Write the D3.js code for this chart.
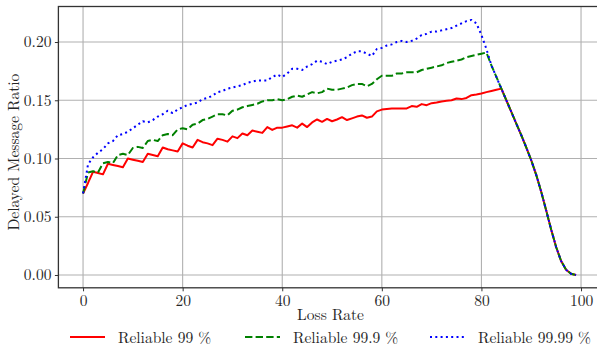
<!DOCTYPE html>
<html>
<head>
<meta charset="utf-8">
<script src="https://cdn.jsdelivr.net/npm/d3@7"></script>
<style>
  body { margin: 0; background: #fff; }
</style>
</head>
<body>
<div id="chart"></div>
<script>
// loss rate (x axis)
var loss_rate = [0,1,2,3,4,5,6,7,8,9,10,11,12,13,14,15,16,17,18,19,20,21,22,23,24,25,26,27,28,29,
  30,31,32,33,34,35,36,37,38,39,40,41,42,43,44,45,46,47,48,49,50,51,52,53,54,55,56,57,58,59,
  60,61,62,63,64,65,66,67,68,69,70,71,72,73,74,75,76,77,78,79,80,81,82,83,84,85,86,87,88,89,
  90,91,92,93,94,95,96,97,98,99];

var reliable_99 = [0.070,0.079,0.0886,0.0875,0.0864,0.0955,0.0945,0.0935,0.0925,0.100,
  0.099,0.098,0.097,0.104,0.103,0.102,0.1095,0.108,0.107,0.106,
  0.113,0.111,0.1095,0.116,0.114,0.113,0.1115,0.117,0.116,0.1145,
  0.119,0.1175,0.1215,0.120,0.124,0.123,0.122,0.127,0.1245,0.1265,
  0.1265,0.1275,0.1285,0.1265,0.130,0.127,0.131,0.1335,0.1315,0.134,
  0.132,0.1335,0.1355,0.133,0.1345,0.136,0.137,0.135,0.136,0.1405,
  0.142,0.1425,0.143,0.143,0.143,0.143,0.145,0.1444,0.1467,0.1458,
  0.1475,0.148,0.149,0.1495,0.150,0.1515,0.151,0.152,0.1544,0.155,
  0.1558,0.157,0.158,0.159,0.160,0.150,0.140,0.130,0.120,0.1095,
  0.0985,0.086,0.0715,0.0555,0.039,0.024,0.012,0.0045,0.001,0.000];

var reliable_999 = [0.070,0.088,0.089,0.088,0.096,0.097,0.096,0.103,0.104,0.103,
  0.109,0.110,0.109,0.115,0.116,0.115,0.120,0.121,0.120,0.125,
  0.126,0.125,0.129,0.130,0.133,0.134,0.136,0.138,0.138,0.137,
  0.141,0.142,0.144,0.145,0.146,0.147,0.149,0.150,0.150,0.151,
  0.150,0.151,0.153,0.154,0.153,0.155,0.157,0.156,0.157,0.160,
  0.159,0.159,0.160,0.161,0.163,0.164,0.164,0.162,0.164,0.168,
  0.171,0.171,0.171,0.173,0.173,0.174,0.174,0.174,0.176,0.177,
  0.178,0.179,0.180,0.182,0.183,0.184,0.185,0.187,0.188,0.189,
  0.190,0.191,0.180,0.170,0.160,0.150,0.140,0.130,0.120,0.1095,
  0.0985,0.086,0.0715,0.0555,0.039,0.024,0.012,0.0045,0.001,0.000];

var reliable_9999 = [0.070,0.095,0.101,0.105,0.108,0.113,0.115,0.120,0.121,0.123,
  0.126,0.129,0.132,0.131,0.133,0.136,0.138,0.141,0.139,0.142,
  0.144,0.146,0.147,0.148,0.151,0.152,0.154,0.157,0.158,0.160,
  0.161,0.162,0.163,0.165,0.166,0.167,0.167,0.167,0.170,0.172,
  0.170,0.173,0.177,0.177,0.176,0.179,0.181,0.184,0.183,0.181,
  0.183,0.184,0.185,0.187,0.190,0.192,0.192,0.190,0.188,0.194,
  0.195,0.197,0.198,0.200,0.201,0.200,0.201,0.203,0.206,0.207,
  0.209,0.209,0.210,0.211,0.212,0.214,0.216,0.218,0.219,0.216,
  0.206,0.194,0.180,0.170,0.160,0.150,0.140,0.130,0.120,0.1095,
  0.0985,0.086,0.0715,0.0555,0.039,0.024,0.012,0.0045,0.001,0.000];

var x_ticks = [0, 20, 40, 60, 80, 100];
var y_ticks = [0.00, 0.05, 0.10, 0.15, 0.20];

var series = [
  {name: 'Reliable 99 %', values: reliable_99, color: 'red', dash: null},
  {name: 'Reliable 99.9 %', values: reliable_999, color: 'green', dash: '7.4,3.2'},
  {name: 'Reliable 99.99 %', values: reliable_9999, color: 'blue', dash: '2,3.3'}
];

var font = "'Latin Modern Roman', 'Liberation Serif'";
var text_color = '#262626';

var width = 597, height = 349;
var svg = d3.select('#chart').append('svg').attr('width', width).attr('height', height);

var x_scale = d3.scaleLinear().domain([-4.95, 103.95]).range([58.4, 600.7]);
var y_scale = d3.scaleLinear().domain([-0.011, 0.2305]).range([287.8, 6.5]);

var plot_left = x_scale.range()[0], plot_right = x_scale.range()[1];
var plot_bottom = y_scale.range()[0], plot_top = y_scale.range()[1];

svg.append('clipPath').attr('id', 'plot_clip').append('rect')
  .attr('x', plot_left).attr('y', plot_top)
  .attr('width', plot_right - plot_left).attr('height', plot_bottom - plot_top);

// grid
var grid = svg.append('g');
x_ticks.forEach(t => {
  grid.append('line').attr('x1', x_scale(t)).attr('x2', x_scale(t))
    .attr('y1', plot_top).attr('y2', plot_bottom)
    .attr('stroke', '#b0b0b0').attr('stroke-width', 1.1);
});
y_ticks.forEach(t => {
  grid.append('line').attr('x1', plot_left).attr('x2', plot_right)
    .attr('y1', y_scale(t)).attr('y2', y_scale(t))
    .attr('stroke', '#b0b0b0').attr('stroke-width', 1.1);
});

// lines
var line = d3.line().x((d, i) => x_scale(loss_rate[i])).y(d => y_scale(d));
var lines_group = svg.append('g').attr('clip-path', 'url(#plot_clip)');
series.forEach(s => {
  var path = lines_group.append('path').datum(s.values)
    .attr('d', line).attr('fill', 'none')
    .attr('stroke', s.color).attr('stroke-width', 2)
    .attr('stroke-linejoin', 'round');
  if (s.dash) path.attr('stroke-dasharray', s.dash);
});

// frame
svg.append('rect').attr('x', plot_left).attr('y', plot_top)
  .attr('width', plot_right - plot_left).attr('height', plot_bottom - plot_top)
  .attr('fill', 'none').attr('stroke', '#333').attr('stroke-width', 1.3);

// axes
var x_axis = svg.append('g').attr('transform', 'translate(0,' + plot_bottom + ')')
  .call(d3.axisBottom(x_scale).tickValues(x_ticks).tickFormat(d3.format('d')).tickSize(3.5).tickPadding(3.5));
var y_axis = svg.append('g').attr('transform', 'translate(' + plot_left + ',0)')
  .call(d3.axisLeft(y_scale).tickValues(y_ticks).tickFormat(d3.format('.2f')).tickSize(3.5).tickPadding(3.5));
[x_axis, y_axis].forEach(ax => {
  ax.select('.domain').remove();
  ax.selectAll('.tick line').attr('stroke', '#333').attr('stroke-width', 1);
  ax.selectAll('.tick text').style('font-size', '15.5px').style('font-family', font).style('fill', text_color);
});

svg.append('text').text('Loss Rate')
  .attr('x', (plot_left + plot_right) / 2 + 1).attr('y', 320)
  .attr('text-anchor', 'middle')
  .style('font-size', '15.5px').style('font-family', font).style('fill', text_color);

svg.append('text').text('Delayed Message Ratio')
  .attr('transform', 'translate(19,' + ((plot_top + plot_bottom) / 2 + 5) + ') rotate(-90)')
  .attr('text-anchor', 'middle')
  .style('font-size', '15.5px').style('font-family', font).style('fill', text_color);

// legend
var legend_x = [70, 245, 430];
series.forEach((s, i) => {
  var g = svg.append('g').attr('transform', 'translate(' + legend_x[i] + ',337)');
  var l = g.append('line').attr('x1', 0).attr('x2', 35).attr('y1', 0).attr('y2', 0)
    .attr('stroke', s.color).attr('stroke-width', 2);
  if (s.dash) l.attr('stroke-dasharray', s.dash);
  g.append('text').text(s.name).attr('x', 48).attr('y', 5.5)
    .style('font-size', '15.5px').style('font-family', font).style('fill', text_color);
});
</script>
</body>
</html>
